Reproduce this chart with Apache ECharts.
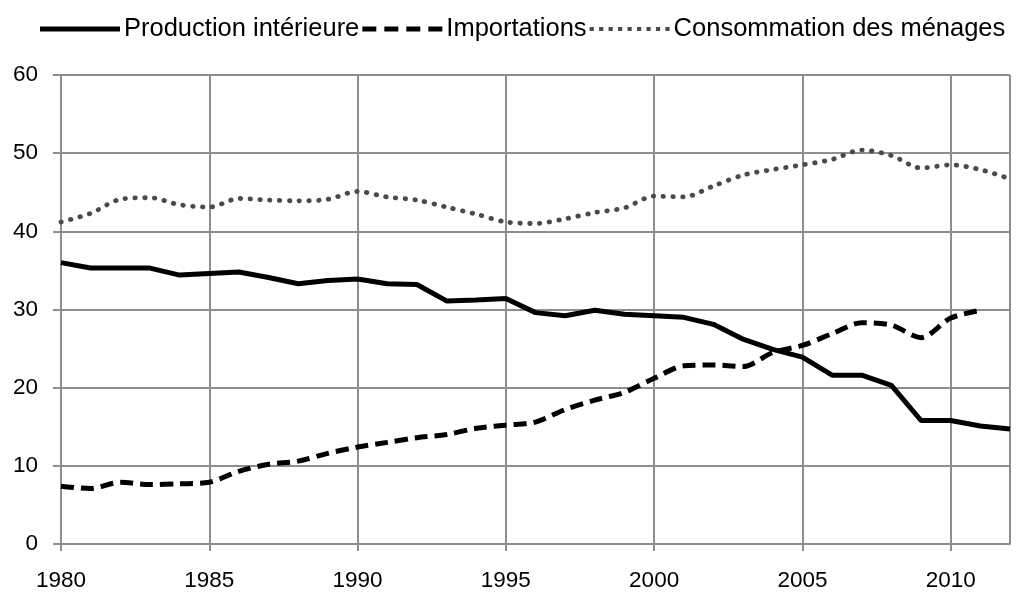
<!DOCTYPE html>
<html>
<head>
<meta charset="utf-8">
<script src="https://cdn.jsdelivr.net/npm/echarts@6/dist/echarts.min.js"></script>
<style>
html,body{margin:0;padding:0;background:#fff;}
#chart{width:1016px;height:592px;}
</style>
</head>
<body>
<div id="chart"></div>
<script>
const years = [1980,1981,1982,1983,1984,1985,1986,1987,1988,1989,1990,1991,1992,1993,1994,1995,1996,1997,1998,1999,2000,2001,2002,2003,2004,2005,2006,2007,2008,2009,2010,2011,2012];
const production = [36.0,35.3,35.3,35.3,34.4,34.6,34.8,34.1,33.3,33.7,33.9,33.3,33.2,31.1,31.2,31.4,29.6,29.2,29.9,29.4,29.2,29.0,28.1,26.2,24.9,23.9,21.6,21.6,20.3,15.8,15.8,15.1,14.7];
const importations = [7.4,7.1,7.9,7.6,7.7,7.9,9.3,10.2,10.6,11.6,12.4,13.0,13.6,14.0,14.8,15.2,15.6,17.2,18.4,19.4,21.2,22.8,22.9,22.7,24.5,25.4,26.9,28.3,28.0,26.4,28.9,29.9,null];
const consommation = [41.2,42.3,44.1,44.3,43.4,43.1,44.2,44.0,43.9,44.1,45.1,44.4,44.0,43.1,42.2,41.2,41.0,41.6,42.4,43.0,44.5,44.4,45.8,47.2,47.9,48.5,49.2,50.4,49.7,48.1,48.5,47.9,46.7];
const seriesNames = ['Production intérieure','Importations','Consommation des ménages'];

const pairs = arr => years.map((y,i) => [y, arr[i]]);
const font = 'Liberation Sans, Arial, sans-serif';
const gridColor = '#8e8e8e';

// legend icon shapes (filled paths)
const iconSolid = 'path://M0,0h80v5h-80z';
let dashPath = 'path://';
for (let x = 0; x < 80; x += 22) dashPath += 'M' + x + ',0h14v5h-14z ';
let dotPath = 'path://';
for (let x = 0; x <= 72; x += 9) dotPath += 'M' + x + ',0.5h4v4h-4z ';

const chart = echarts.init(document.getElementById('chart'), null, {renderer:'canvas'});
chart.setOption({
  animation: false,
  backgroundColor: '#fff',
  legend: {
    left: 35, top: 11, width: 1010,
    itemWidth: 80, itemHeight: 5, itemGap: 3,
    textStyle: {fontFamily: font, fontSize: 25.5, color: '#000', padding: [0,0,0,-1]},
    itemStyle: {borderWidth: 0},
    lineStyle: {width: 0},
    data: [
      {name: seriesNames[0], icon: iconSolid, itemStyle: {color: '#000'}},
      {name: seriesNames[1], icon: dashPath, itemStyle: {color: '#000'}},
      {name: seriesNames[2], icon: dotPath, itemStyle: {color: '#4a4a4a'}}
    ]
  },
  grid: {left: 61, right: 6, top: 75, bottom: 48, containLabel: false},
  xAxis: {
    type: 'value', min: 1980, max: 2012, interval: 5,
    axisLine: {show: true, lineStyle: {color: gridColor, width: 2}},
    axisTick: {show: true, length: 7, lineStyle: {color: gridColor, width: 2}},
    axisLabel: {fontFamily: font, fontSize: 22.5, color: '#000', margin: 25, showMaxLabel: false,
      formatter: v => (v % 5 === 0 ? String(v) : '')},
    splitLine: {show: true, lineStyle: {color: gridColor, width: 2}}
  },
  yAxis: {
    type: 'value', min: 0, max: 60, interval: 10,
    axisLine: {show: true, lineStyle: {color: gridColor, width: 2}},
    axisTick: {show: true, length: 8, lineStyle: {color: gridColor, width: 2}},
    axisLabel: {fontFamily: font, fontSize: 22.5, color: '#000', margin: 23},
    splitLine: {show: true, lineStyle: {color: gridColor, width: 2}}
  },
  series: [
    {name: seriesNames[0], type: 'line', data: pairs(production), symbol: 'none',
     lineStyle: {color: '#000', width: 5, type: 'solid'}, itemStyle: {color: '#000'}, z: 3},
    {name: seriesNames[1], type: 'line', data: pairs(importations), symbol: 'none', smooth: 0.3,
     lineStyle: {color: '#000', width: 5, type: [13, 7]}, itemStyle: {color: '#000'}, z: 3},
    {name: seriesNames[2], type: 'line', data: pairs(consommation), symbol: 'none', smooth: 0.3,
     lineStyle: {color: '#4a4a4a', width: 4.8, type: [0.5, 9.3], cap: 'round'}, itemStyle: {color: '#4a4a4a'}, z: 3}
  ]
});
</script>
</body>
</html>
